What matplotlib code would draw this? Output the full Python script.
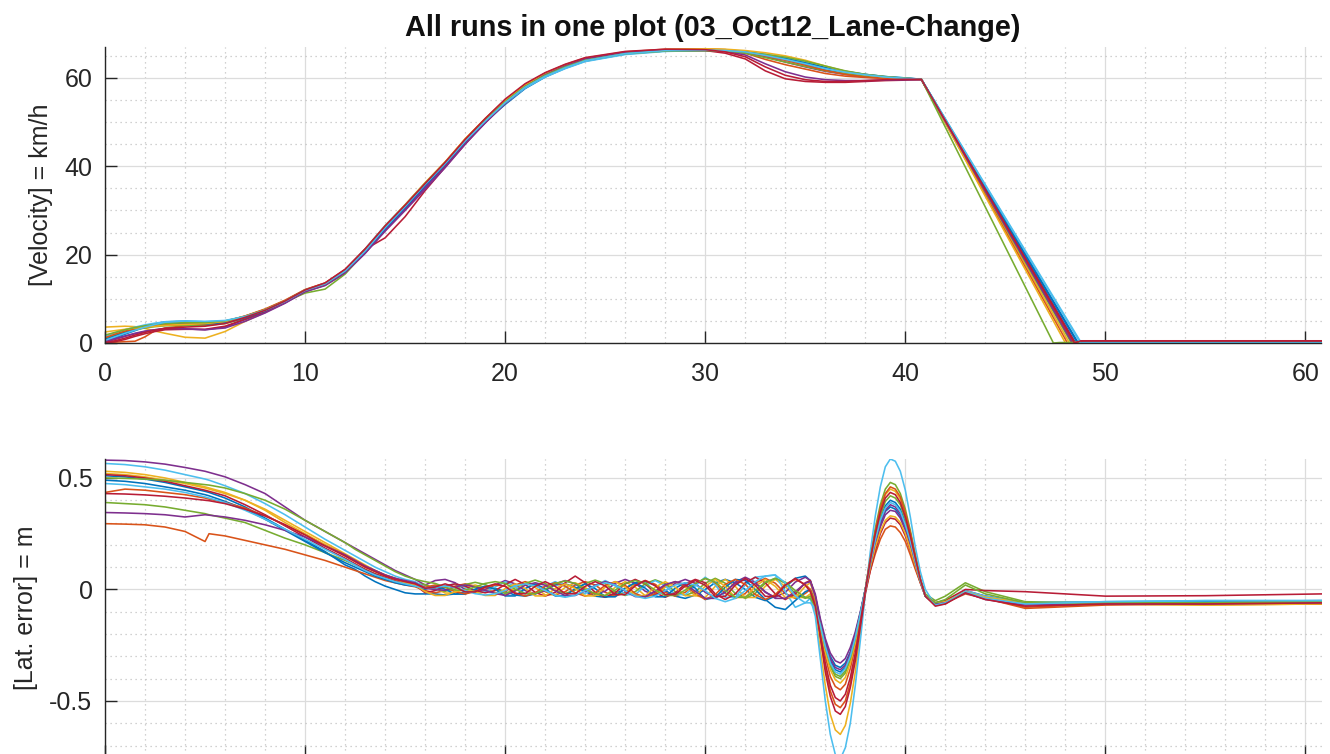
import matplotlib
matplotlib.use("Agg")
import matplotlib.pyplot as plt
from matplotlib.ticker import MultipleLocator

plt.rcParams['font.family'] = ['Liberation Sans', 'DejaVu Sans']
plt.rcParams['axes.unicode_minus'] = False

TITLE = "All runs in one plot (03_Oct12_Lane-Change)"
VEL_LABEL = "[Velocity] = km/h"
LAT_LABEL = "[Lat. error] = m"

run_colors = ['#0072BD', '#D95319', '#EDB120', '#7E2F8E', '#77AC30', '#4DBEEE', '#B81C36',
              '#0072BD', '#D95319', '#EDB120', '#7E2F8E', '#77AC30', '#4DBEEE', '#B81C36']

# ---------------- velocity (km/h) ----------------
t_vel = [0, 0.5, 1, 1.5, 2, 2.5, 3,
         4, 5, 6, 7, 8, 9, 10, 11, 12, 13, 14, 15, 16, 17, 18, 19, 20, 21, 22, 23, 24,
         26, 28, 30,
         31, 32, 33, 34, 35, 36, 37, 38, 39, 40,
         40.8]
T_END = 60.8

vel01 = [0.3, 1.2, 2.0, 2.8, 3.6, 4.3, 4.8,
         4.9, 4.5, 4.6, 5.6, 7.1, 9.2, 11.8, 13.3, 16.0, 20.5, 25.6, 30.4, 35.4, 40.3, 45.4, 50.0, 54.0, 57.6, 60.2, 62.2, 63.8,
         65.4, 66.1, 66.2,
         66.1, 65.8, 65.0, 64.1, 63.0, 61.8, 61.0, 60.5, 60.2, 59.9,
         59.7]
vel02 = [0.0, 0.2, 0.3, 0.4, 1.4, 2.8, 3.4,
         3.9, 4.2, 4.9, 6.1, 7.6, 9.6, 12.0, 13.5, 16.5, 21.0, 26.3, 31.0, 36.0, 40.8, 46.0, 50.6, 54.8, 58.3, 60.9, 62.8, 64.3,
         65.8, 66.4, 66.4,
         66.2, 65.6, 64.2, 63.0, 62.0, 61.0, 60.4, 60.1, 59.9, 59.8,
         59.7]
vel03 = [3.6, 3.7, 3.8, 3.7, 3.3, 2.7, 2.2,
         1.3, 1.1, 2.6, 4.9, 6.9, 9.2, 11.7, 13.2, 16.3, 21.0, 26.4, 31.2, 36.2, 40.9, 46.2, 50.8, 55.0, 58.5, 61.0, 62.8, 64.2,
         65.6, 66.3, 66.5,
         66.4, 66.0, 65.2, 64.5, 63.5, 62.3, 61.2, 60.5, 60.1, 59.8,
         59.7]
vel04 = [0.5, 1.0, 1.6, 2.2, 2.7, 3.0, 3.2,
         3.2, 3.0, 3.6, 5.3, 7.0, 9.1, 11.6, 13.0, 15.8, 20.3, 25.5, 30.3, 35.2, 40.0, 45.2, 49.8, 54.2, 57.8, 60.5, 62.4, 64.0,
         65.6, 66.2, 66.3,
         66.1, 65.7, 64.8, 63.6, 62.5, 61.5, 60.8, 60.3, 60.0, 59.8,
         59.7]
vel05 = [1.0, 1.8, 2.5, 3.0, 3.4, 3.7, 3.9,
         4.0, 4.0, 4.4, 5.6, 7.2, 9.3, 11.3, 12.2, 15.6, 20.6, 26.2, 31.0, 36.0, 40.7, 45.8, 50.2, 54.4, 57.9, 60.5, 62.4, 63.9,
         65.5, 66.1, 66.2,
         66.0, 65.6, 64.6, 63.6, 62.6, 61.6, 60.9, 60.4, 60.1, 59.8,
         59.7]
vel06 = [1.5, 2.3, 3.0, 3.6, 4.1, 4.5, 4.8,
         5.0, 4.8, 5.0, 6.0, 7.5, 9.5, 12.0, 13.5, 16.5, 21.3, 26.6, 31.3, 36.2, 40.8, 45.8, 50.2, 54.3, 57.7, 60.2, 62.1, 63.7,
         65.3, 66.0, 66.2,
         66.1, 65.9, 65.4, 64.6, 63.5, 62.3, 61.4, 60.8, 60.3, 60.0,
         59.7]
vel07 = [0.0, 0.3, 0.8, 1.5, 2.1, 2.6, 3.0,
         3.1, 3.1, 3.8, 5.4, 7.1, 9.2, 11.8, 13.4, 16.4, 21.2, 23.8, 28.6, 34.5, 39.8, 45.0, 50.0, 54.6, 58.3, 61.0, 62.9, 64.4,
         65.8, 66.3, 66.2,
         65.6, 64.3, 61.6, 59.8, 59.2, 59.0, 59.0, 59.2, 59.4, 59.5,
         59.6]
vel08 = [0.8, 1.6, 2.4, 3.1, 3.7, 4.1, 4.4,
         4.5, 4.3, 4.6, 5.7, 7.3, 9.4, 11.9, 13.4, 16.2, 20.7, 25.9, 30.7, 35.7, 40.5, 45.6, 50.2, 54.5, 58.0, 60.6, 62.5, 64.0,
         65.6, 66.2, 66.3,
         66.2, 65.9, 65.2, 64.4, 63.4, 62.4, 61.5, 60.8, 60.3, 60.0,
         59.7]
vel09 = [1.2, 2.0, 2.7, 3.2, 3.6, 3.9, 4.1,
         4.3, 4.4, 4.9, 6.1, 7.7, 9.7, 12.1, 13.6, 16.6, 21.2, 26.4, 31.2, 36.1, 40.9, 46.1, 50.7, 55.0, 58.5, 61.1, 63.0, 64.5,
         65.9, 66.5, 66.6,
         66.4, 65.9, 65.0, 64.0, 62.9, 61.7, 60.8, 60.2, 59.9, 59.7,
         59.6]
vel10 = [2.5, 2.8, 3.1, 3.4, 3.6, 3.8, 4.0,
         4.2, 4.4, 4.9, 6.0, 7.5, 9.5, 12.0, 13.5, 16.5, 21.2, 26.5, 31.3, 36.3, 41.0, 46.2, 50.7, 54.9, 58.4, 60.9, 62.7, 64.2,
         65.7, 66.4, 66.6,
         66.5, 66.2, 65.7, 65.0, 64.0, 62.7, 61.5, 60.7, 60.2, 59.9,
         59.7]
vel11 = [0.2, 0.8, 1.5, 2.1, 2.6, 3.0, 3.3,
         3.2, 3.0, 3.4, 4.9, 6.8, 9.0, 11.6, 13.1, 15.9, 20.3, 25.3, 30.0, 34.8, 39.7, 45.0, 49.8, 54.3, 58.0, 60.7, 62.7, 64.3,
         65.8, 66.3, 66.3,
         66.0, 65.2, 63.2, 61.4, 60.2, 59.6, 59.4, 59.4, 59.5, 59.6,
         59.6]
vel12 = [1.8, 2.4, 3.0, 3.5, 3.9, 4.2, 4.4,
         4.6, 4.6, 5.0, 6.0, 7.5, 9.5, 12.0, 13.4, 16.4, 21.1, 26.4, 31.1, 36.1, 40.8, 45.9, 50.4, 54.6, 58.1, 60.6, 62.5, 64.0,
         65.5, 66.1, 66.2,
         66.1, 65.8, 65.3, 64.7, 63.8, 62.7, 61.6, 60.8, 60.3, 59.9,
         59.7]
vel13 = [0.6, 1.4, 2.2, 2.9, 3.6, 4.2, 4.7,
         5.0, 4.9, 5.1, 6.0, 7.4, 9.4, 11.9, 13.4, 16.3, 20.8, 26.1, 30.9, 35.9, 40.6, 45.7, 50.2, 54.4, 57.9, 60.4, 62.3, 63.9,
         65.5, 66.2, 66.3,
         66.2, 65.9, 65.1, 64.2, 63.2, 62.1, 61.3, 60.7, 60.2, 59.9,
         59.7]
vel14 = [0.1, 0.5, 1.1, 1.8, 2.4, 2.9, 3.3,
         3.6, 3.8, 4.4, 5.8, 7.4, 9.5, 12.0, 13.6, 16.7, 21.3, 26.5, 31.2, 36.1, 40.9, 46.1, 50.8, 55.2, 58.7, 61.2, 63.1, 64.6,
         66.0, 66.5, 66.4,
         65.9, 64.8, 62.5, 60.6, 59.6, 59.2, 59.2, 59.4, 59.6, 59.7,
         59.7]
vel_runs = [vel01, vel02, vel03, vel04, vel05, vel06, vel07,
            vel08, vel09, vel10, vel11, vel12, vel13, vel14]
# time at which each run reaches standstill, and residual value afterwards
vel_stop_time = [48.65, 48.4, 48.2, 48.5, 48.3, 48.8, 48.5, 48.6, 48.1, 48.0, 48.35, 47.4, 48.75, 48.45]
vel_rest = [0.1, 0.2, 0.2, 0.1, 0.1, 0.05, 0.5, 0.1, 0.2, 0.1, 0.2, 0.1, 0.1, 0.45]

# ---------------- lateral error (m) ----------------
t_lat = [0, 1, 2, 3, 4, 5, 5.2, 6, 7, 8, 9, 10, 11, 12,
         12.5, 13, 13.5, 14, 14.5, 15, 15.5,
         16, 16.5, 17, 17.5, 18, 18.5, 19, 19.5, 20, 20.5, 21, 21.5, 22, 22.5, 23, 23.5, 24, 24.5,
         25, 25.5, 26, 26.5, 27, 27.5, 28, 28.5, 29, 29.5, 30, 30.5, 31, 31.5, 32, 32.5, 33, 33.5,
         34, 34.5, 35,
         35.25, 35.5, 35.75, 36, 36.25, 36.5, 36.75, 37, 37.25, 37.5, 37.75, 38,
         38.25, 38.5, 38.75, 39, 39.25, 39.5, 39.75, 40, 40.25, 40.5, 40.75, 41,
         41.5, 42, 43, 44, 46, 50, 55, 60.8]

lat01 = [0.51, 0.505, 0.495, 0.48, 0.46, 0.44, 0.435, 0.41, 0.37, 0.32, 0.27, 0.22, 0.17, 0.11,
         0.09, 0.06, 0.035, 0.015, 0.0, -0.015, -0.02,
         -0.02, -0.02, -0.025, -0.02, -0.01, 0.0, 0.01, 0.005, -0.01, -0.025, -0.03, -0.02, 0.0, 0.02, 0.025, 0.01, -0.01,
         -0.03, -0.035, -0.02, 0.005, 0.03, 0.035, 0.02, -0.005, -0.03, -0.04, -0.025, 0.0, 0.03, 0.045, 0.03, 0.0,
         -0.035, -0.05, -0.03, 0.01, 0.05, 0.06,
         0.04, -0.03, -0.14, -0.23, -0.30, -0.34, -0.35, -0.33, -0.28, -0.20, -0.105, 0.0,
         0.11, 0.21, 0.29, 0.35, 0.37, 0.36, 0.33, 0.28, 0.20, 0.12, 0.04, -0.03,
         -0.06, -0.05, -0.01, -0.03, -0.06, -0.055, -0.055, -0.05]
lat02 = [0.295, 0.293, 0.29, 0.28, 0.26, 0.215, 0.25, 0.24, 0.22, 0.20, 0.18, 0.155, 0.13, 0.10,
         0.085, 0.07, 0.055, 0.04, 0.03, 0.02, 0.012,
         -0.005, -0.015, -0.005, 0.015, 0.025, 0.015, -0.005, -0.015,
         -0.01, 0.02, 0.035, 0.02, -0.01, -0.025, -0.01, 0.02, 0.035, 0.02,
         -0.013, -0.03, -0.013, 0.023, 0.04, 0.023, -0.013, -0.03, -0.013, 0.023,
         0.05, 0.028, -0.018, -0.04, -0.018, 0.028, 0.05, 0.028, -0.018, -0.04, -0.018,
         0.0, -0.07, -0.22, -0.35, -0.455, -0.515, -0.53, -0.50, -0.42, -0.30, -0.16, -0.01,
         0.085, 0.16, 0.225, 0.27, 0.285, 0.28, 0.255, 0.215, 0.155, 0.09, 0.03, -0.03,
         -0.07, -0.06, -0.02, -0.04, -0.08, -0.065, -0.065, -0.06]
lat03 = [0.52, 0.515, 0.505, 0.49, 0.475, 0.455, 0.45, 0.43, 0.40, 0.36, 0.31, 0.26, 0.21, 0.16,
         0.135, 0.11, 0.085, 0.065, 0.05, 0.035, 0.025,
         0.02, 0.006, -0.016, -0.016, 0.006, 0.02, 0.006, -0.016,
         -0.024, 0.009, 0.03, 0.009, -0.024, -0.024, 0.009, 0.03, 0.009, -0.024,
         -0.028, 0.01, 0.035, 0.01, -0.028, -0.028, 0.01, 0.035, 0.01, -0.028,
         -0.036, 0.014, 0.045, 0.014, -0.036, -0.036, 0.014, 0.045, 0.014, -0.036, -0.036,
         -0.02, -0.10, -0.27, -0.43, -0.56, -0.63, -0.65, -0.61, -0.51, -0.37, -0.195, -0.01,
         0.135, 0.255, 0.355, 0.425, 0.45, 0.44, 0.405, 0.34, 0.25, 0.145, 0.045, -0.03,
         -0.065, -0.06, -0.01, -0.035, -0.065, -0.065, -0.07, -0.065]
lat04 = [0.58, 0.578, 0.572, 0.562, 0.547, 0.53, 0.525, 0.505, 0.47, 0.43, 0.37, 0.31, 0.26, 0.21,
         0.185, 0.16, 0.135, 0.11, 0.085, 0.065, 0.045,
         0.02, 0.04, 0.045, 0.03, 0.0, -0.01, 0.0, 0.02,
         0.04, 0.025, -0.005, -0.02, -0.005, 0.025, 0.04, 0.025, -0.005, -0.02,
         -0.008, 0.028, 0.045, 0.028, -0.008, -0.025, -0.008, 0.028, 0.045, 0.028,
         -0.013, -0.035, -0.013, 0.033, 0.055, 0.033, -0.013, -0.035, -0.013, 0.033, 0.055,
         0.04, -0.02, -0.13, -0.22, -0.285, -0.32, -0.33, -0.31, -0.26, -0.19, -0.10, 0.0,
         0.105, 0.20, 0.28, 0.335, 0.355, 0.35, 0.32, 0.265, 0.195, 0.115, 0.035, -0.03,
         -0.06, -0.055, -0.005, -0.03, -0.06, -0.06, -0.06, -0.055]
lat05 = [0.39, 0.385, 0.38, 0.37, 0.355, 0.34, 0.335, 0.32, 0.30, 0.265, 0.23, 0.20, 0.165, 0.13,
         0.11, 0.09, 0.07, 0.055, 0.04, 0.03, 0.025,
         0.022, 0.002, -0.008, 0.002, 0.022, 0.032, 0.022, 0.002,
         -0.018, -0.003, 0.027, 0.042, 0.027, -0.003, -0.018, -0.003, 0.027, 0.042,
         0.026, -0.01, -0.027, -0.01, 0.026, 0.043, 0.026, -0.01, -0.027, -0.01,
         0.028, 0.05, 0.028, -0.018, -0.04, -0.018, 0.028, 0.05, 0.028, -0.018, -0.04,
         -0.03, -0.07, -0.165, -0.265, -0.345, -0.39, -0.40, -0.375, -0.315, -0.23, -0.12, 0.0,
         0.145, 0.275, 0.38, 0.45, 0.48, 0.47, 0.43, 0.36, 0.265, 0.155, 0.05, -0.02,
         -0.05, -0.03, 0.03, -0.01, -0.055, -0.06, -0.06, -0.055]
lat06 = [0.565, 0.56, 0.55, 0.535, 0.515, 0.495, 0.49, 0.465, 0.43, 0.385, 0.335, 0.28, 0.225, 0.175,
         0.15, 0.125, 0.10, 0.08, 0.06, 0.045, 0.035,
         0.01, 0.0, 0.017, 0.025, 0.011, -0.011, -0.011, 0.011,
         0.035, 0.014, -0.019, -0.019, 0.014, 0.035, 0.014, -0.019, -0.019, 0.014,
         0.04, 0.016, -0.023, -0.023, 0.016, 0.04, 0.016, -0.023, -0.023, 0.016,
         0.055, 0.02, -0.035, -0.035, 0.02, 0.055, 0.06, 0.065, -0.01, -0.08, -0.06,
         -0.04, -0.12, -0.31, -0.50, -0.65, -0.74, -0.76, -0.71, -0.60, -0.43, -0.23, -0.02,
         0.17, 0.33, 0.46, 0.55, 0.585, 0.575, 0.53, 0.445, 0.325, 0.19, 0.08, 0.0,
         -0.07, -0.05, -0.005, -0.03, -0.06, -0.055, -0.05, -0.05]
lat07 = [0.515, 0.51, 0.50, 0.485, 0.465, 0.445, 0.44, 0.42, 0.38, 0.335, 0.285, 0.235, 0.185, 0.14,
         0.115, 0.09, 0.07, 0.055, 0.04, 0.03, 0.02,
         -0.015, -0.005, 0.015, 0.025, 0.015, -0.005, -0.015, -0.005,
         0.022, 0.045, 0.022, -0.013, -0.03, -0.013, 0.03, 0.06, 0.03, -0.013,
         -0.035, -0.015, 0.025, 0.045, 0.025, -0.015, -0.035, -0.015, 0.025, 0.045,
         0.03, -0.02, -0.045, -0.02, 0.03, 0.055, 0.03, -0.02, -0.045, -0.02, 0.03,
         0.04, -0.04, -0.21, -0.37, -0.48, -0.545, -0.56, -0.525, -0.44, -0.32, -0.17, -0.02,
         0.085, 0.175, 0.25, 0.30, 0.32, 0.315, 0.29, 0.24, 0.175, 0.10, 0.03, -0.03,
         -0.06, -0.05, 0.0, -0.005, -0.01, -0.03, -0.028, -0.02]
lat08 = [0.49, 0.485, 0.475, 0.46, 0.445, 0.425, 0.42, 0.395, 0.36, 0.315, 0.265, 0.215, 0.165, 0.12,
         0.10, 0.08, 0.06, 0.045, 0.03, 0.02, 0.015,
         0.001, 0.015, 0.001, -0.021, -0.021, 0.001, 0.015, 0.001,
         -0.029, -0.029, 0.004, 0.025, 0.004, -0.029, -0.029, 0.004, 0.025, 0.004,
         -0.033, -0.033, 0.006, 0.03, 0.006, -0.033, -0.033, 0.006, 0.03, 0.006,
         -0.045, -0.035, 0.01, 0.045, 0.04, 0.0, -0.045, -0.08, -0.09, -0.05, -0.01,
         0.0, -0.05, -0.15, -0.245, -0.32, -0.36, -0.37, -0.35, -0.29, -0.21, -0.11, 0.0,
         0.12, 0.23, 0.315, 0.375, 0.40, 0.39, 0.36, 0.30, 0.22, 0.13, 0.04, -0.03,
         -0.065, -0.06, -0.015, -0.04, -0.065, -0.06, -0.06, -0.06]
lat09 = [0.435, 0.45, 0.445, 0.435, 0.425, 0.41, 0.405, 0.39, 0.365, 0.33, 0.29, 0.245, 0.20, 0.155,
         0.13, 0.105, 0.085, 0.065, 0.05, 0.035, 0.025,
         0.01, 0.02, 0.01, -0.01, -0.02, -0.01, 0.01, 0.02,
         0.015, -0.015, -0.03, -0.015, 0.015, 0.03, 0.015, -0.015, -0.03, -0.015,
         0.018, 0.035, 0.018, -0.018, -0.035, -0.018, 0.018, 0.035, 0.018, -0.018,
         -0.045, -0.023, 0.023, 0.045, 0.023, -0.023, -0.045, -0.023, 0.023, 0.045, 0.023,
         0.0, -0.06, -0.185, -0.30, -0.39, -0.435, -0.45, -0.425, -0.355, -0.255, -0.135, 0.0,
         0.14, 0.26, 0.365, 0.43, 0.46, 0.45, 0.415, 0.345, 0.255, 0.15, 0.045, -0.03,
         -0.07, -0.065, -0.01, -0.04, -0.085, -0.07, -0.065, -0.065]
lat10 = [0.53, 0.525, 0.515, 0.50, 0.48, 0.46, 0.455, 0.435, 0.40, 0.355, 0.30, 0.25, 0.20, 0.15,
         0.125, 0.10, 0.08, 0.06, 0.045, 0.03, 0.02,
         -0.01, -0.027, -0.027, -0.01, 0.0, -0.01, -0.027, -0.027,
         0.004, 0.025, 0.004, -0.029, -0.029, 0.004, 0.025, 0.004, -0.029, -0.029,
         0.01, 0.035, 0.01, -0.028, -0.028, 0.01, 0.035, 0.01, -0.028, -0.028,
         0.014, 0.045, 0.014, -0.036, -0.036, 0.014, 0.045, 0.014, -0.036, -0.036, 0.014,
         0.03, -0.04, -0.17, -0.28, -0.36, -0.405, -0.42, -0.395, -0.33, -0.24, -0.125, -0.005,
         0.10, 0.19, 0.26, 0.31, 0.33, 0.325, 0.30, 0.25, 0.18, 0.105, 0.035, -0.03,
         -0.06, -0.055, -0.01, -0.035, -0.06, -0.065, -0.07, -0.065]
lat11 = [0.345, 0.343, 0.34, 0.335, 0.325, 0.335, 0.333, 0.325, 0.31, 0.29, 0.265, 0.235, 0.195, 0.155,
         0.13, 0.105, 0.085, 0.065, 0.05, 0.04, 0.03,
         0.005, 0.0, -0.004, 0.012, 0.02, 0.012, -0.004, -0.018,
         -0.027, -0.007, 0.019, 0.03, 0.019, -0.007, -0.027, -0.027, -0.007, 0.019,
         0.035, 0.022, -0.008, -0.032, -0.032, -0.008, 0.022, 0.035, 0.022, -0.008,
         -0.04, -0.04, -0.01, 0.028, 0.045, 0.028, -0.01, -0.04, -0.04, -0.01, 0.028,
         0.035, -0.03, -0.145, -0.24, -0.31, -0.35, -0.36, -0.34, -0.285, -0.205, -0.11, 0.0,
         0.115, 0.215, 0.30, 0.355, 0.38, 0.37, 0.34, 0.285, 0.21, 0.12, 0.04, -0.03,
         -0.065, -0.06, -0.015, -0.045, -0.07, -0.065, -0.065, -0.06]
lat12 = [0.50, 0.498, 0.495, 0.49, 0.48, 0.47, 0.468, 0.455, 0.43, 0.40, 0.36, 0.31, 0.26, 0.21,
         0.18, 0.155, 0.13, 0.105, 0.08, 0.06, 0.045,
         0.035, 0.027, 0.011, -0.003, -0.003, 0.011, 0.027, 0.035,
         0.027, 0.001, -0.019, -0.019, 0.001, 0.027, 0.038, 0.027, 0.001, -0.019,
         -0.027, -0.003, 0.027, 0.04, 0.027, -0.003, -0.027, -0.027, -0.003, 0.027,
         0.05, 0.033, -0.005, -0.035, -0.035, -0.005, 0.033, 0.05, 0.033, -0.005, -0.035,
         -0.04, -0.075, -0.16, -0.26, -0.335, -0.38, -0.39, -0.365, -0.31, -0.22, -0.115, 0.0,
         0.125, 0.24, 0.33, 0.395, 0.42, 0.41, 0.38, 0.315, 0.23, 0.135, 0.04, -0.03,
         -0.06, -0.045, 0.02, -0.02, -0.06, -0.06, -0.06, -0.055]
lat13 = [0.475, 0.47, 0.46, 0.45, 0.435, 0.415, 0.41, 0.39, 0.355, 0.315, 0.27, 0.225, 0.18, 0.135,
         0.11, 0.085, 0.065, 0.05, 0.035, 0.025, 0.015,
         0.005, 0.01, 0.015, 0.01, -0.005, -0.019, -0.025, -0.019,
         -0.005, 0.016, 0.025, 0.016, -0.005, -0.026, -0.035, -0.026, -0.005, 0.016,
         0.03, 0.02, -0.005, -0.03, -0.04, -0.03, -0.005, 0.02, 0.03, 0.02,
         -0.005, -0.04, -0.055, -0.04, -0.005, 0.035, 0.06, 0.065, 0.03, -0.03, -0.06,
         -0.06, -0.085, -0.16, -0.255, -0.33, -0.37, -0.38, -0.355, -0.30, -0.215, -0.11, 0.0,
         0.12, 0.22, 0.31, 0.365, 0.39, 0.38, 0.35, 0.29, 0.215, 0.125, 0.04, -0.03,
         -0.07, -0.06, -0.01, -0.04, -0.065, -0.055, -0.05, -0.05]
lat14 = [0.43, 0.428, 0.424, 0.418, 0.41, 0.40, 0.398, 0.385, 0.36, 0.33, 0.29, 0.245, 0.195, 0.15,
         0.125, 0.10, 0.08, 0.06, 0.045, 0.035, 0.025,
         0.005, 0.011, 0.025, 0.011, -0.011, -0.011, 0.011, 0.025,
         0.014, -0.019, -0.019, 0.014, 0.035, 0.014, -0.019, -0.019, 0.014, 0.035,
         0.016, -0.023, -0.023, 0.016, 0.04, 0.016, -0.023, -0.023, 0.016, 0.04,
         0.019, -0.031, -0.031, 0.019, 0.05, 0.019, -0.031, -0.031, 0.019, 0.05, 0.019,
         -0.01, -0.075, -0.205, -0.33, -0.43, -0.485, -0.50, -0.47, -0.395, -0.285, -0.15, -0.005,
         0.13, 0.25, 0.345, 0.41, 0.435, 0.425, 0.39, 0.325, 0.24, 0.14, 0.045, -0.03,
         -0.075, -0.065, -0.015, -0.045, -0.075, -0.065, -0.065, -0.06]
lat_runs = [lat01, lat02, lat03, lat04, lat05, lat06, lat07,
            lat08, lat09, lat10, lat11, lat12, lat13, lat14]

vel_ticks = [0, 20, 40, 60]
lat_ticks = [-0.5, 0, 0.5]
lat_tick_labels = ['-0.5', '0', '0.5']
x_ticks = [0, 10, 20, 30, 40, 50, 60]

# ---------------- figure ----------------
W, H = 1330, 754
fig = plt.figure(figsize=(W / 100, H / 100), dpi=100)
ax1 = fig.add_axes([105 / W, 1 - 343 / H, 1216.5 / W, 296 / H])
ax2 = fig.add_axes([105 / W, (H - 756.7) / H, 1216.5 / W, 297.7 / H])

TXT = '#262626'


def style(ax):
    for s in ('top', 'right'):
        ax.spines[s].set_visible(False)
    for s in ('left', 'bottom'):
        ax.spines[s].set_color(TXT)
        ax.spines[s].set_linewidth(1.0)
    ax.set_axisbelow(True)
    ax.grid(which='major', color='#dcdcdc', lw=0.9, ls='-')
    ax.grid(which='minor', color='#c2c2c2', lw=0.9, ls=(0, (1, 3)))
    ax.tick_params(which='major', direction='in', length=8.6, width=1.0, color=TXT,
                   labelcolor=TXT, labelsize=18, top=False, right=False)
    ax.tick_params(which='minor', length=0, top=False, right=False)
    ax.tick_params(axis='x', pad=13.5)
    ax.tick_params(axis='y', pad=9)
    ax.set_xticks(x_ticks)
    ax.xaxis.set_minor_locator(MultipleLocator(2))
    ax.set_xlim(0, T_END)


style(ax1)
style(ax2)
# the lower panel's x tick labels lie below the visible canvas in the reference
ax2.tick_params(axis='x', labelbottom=False)

for vals, stop, rest, col in zip(vel_runs, vel_stop_time, vel_rest, run_colors):
    ax1.plot(t_vel + [stop, stop + 0.3, T_END], vals + [0.0, rest, rest], color=col, lw=1.15)
ax1.set_ylim(0, 67)
ax1.set_yticks(vel_ticks)
ax1.yaxis.set_minor_locator(MultipleLocator(5))
ax1.set_ylabel(VEL_LABEL, fontsize=18, color=TXT, labelpad=8)

for vals, col in zip(lat_runs, run_colors):
    ax2.plot(t_lat, vals, color=col, lw=1.15)
ax2.set_ylim(-0.75, 0.585)
ax2.set_yticks(lat_ticks, labels=lat_tick_labels)
ax2.yaxis.set_minor_locator(MultipleLocator(0.1))
ax2.set_ylabel(LAT_LABEL, fontsize=18, color=TXT, labelpad=8)

fig.text(713 / W, 1 - 28 / H, TITLE, ha='center', va='center', fontsize=20.8,
         fontweight='bold', color='#101010')

fig.savefig('out.png', dpi=100)
